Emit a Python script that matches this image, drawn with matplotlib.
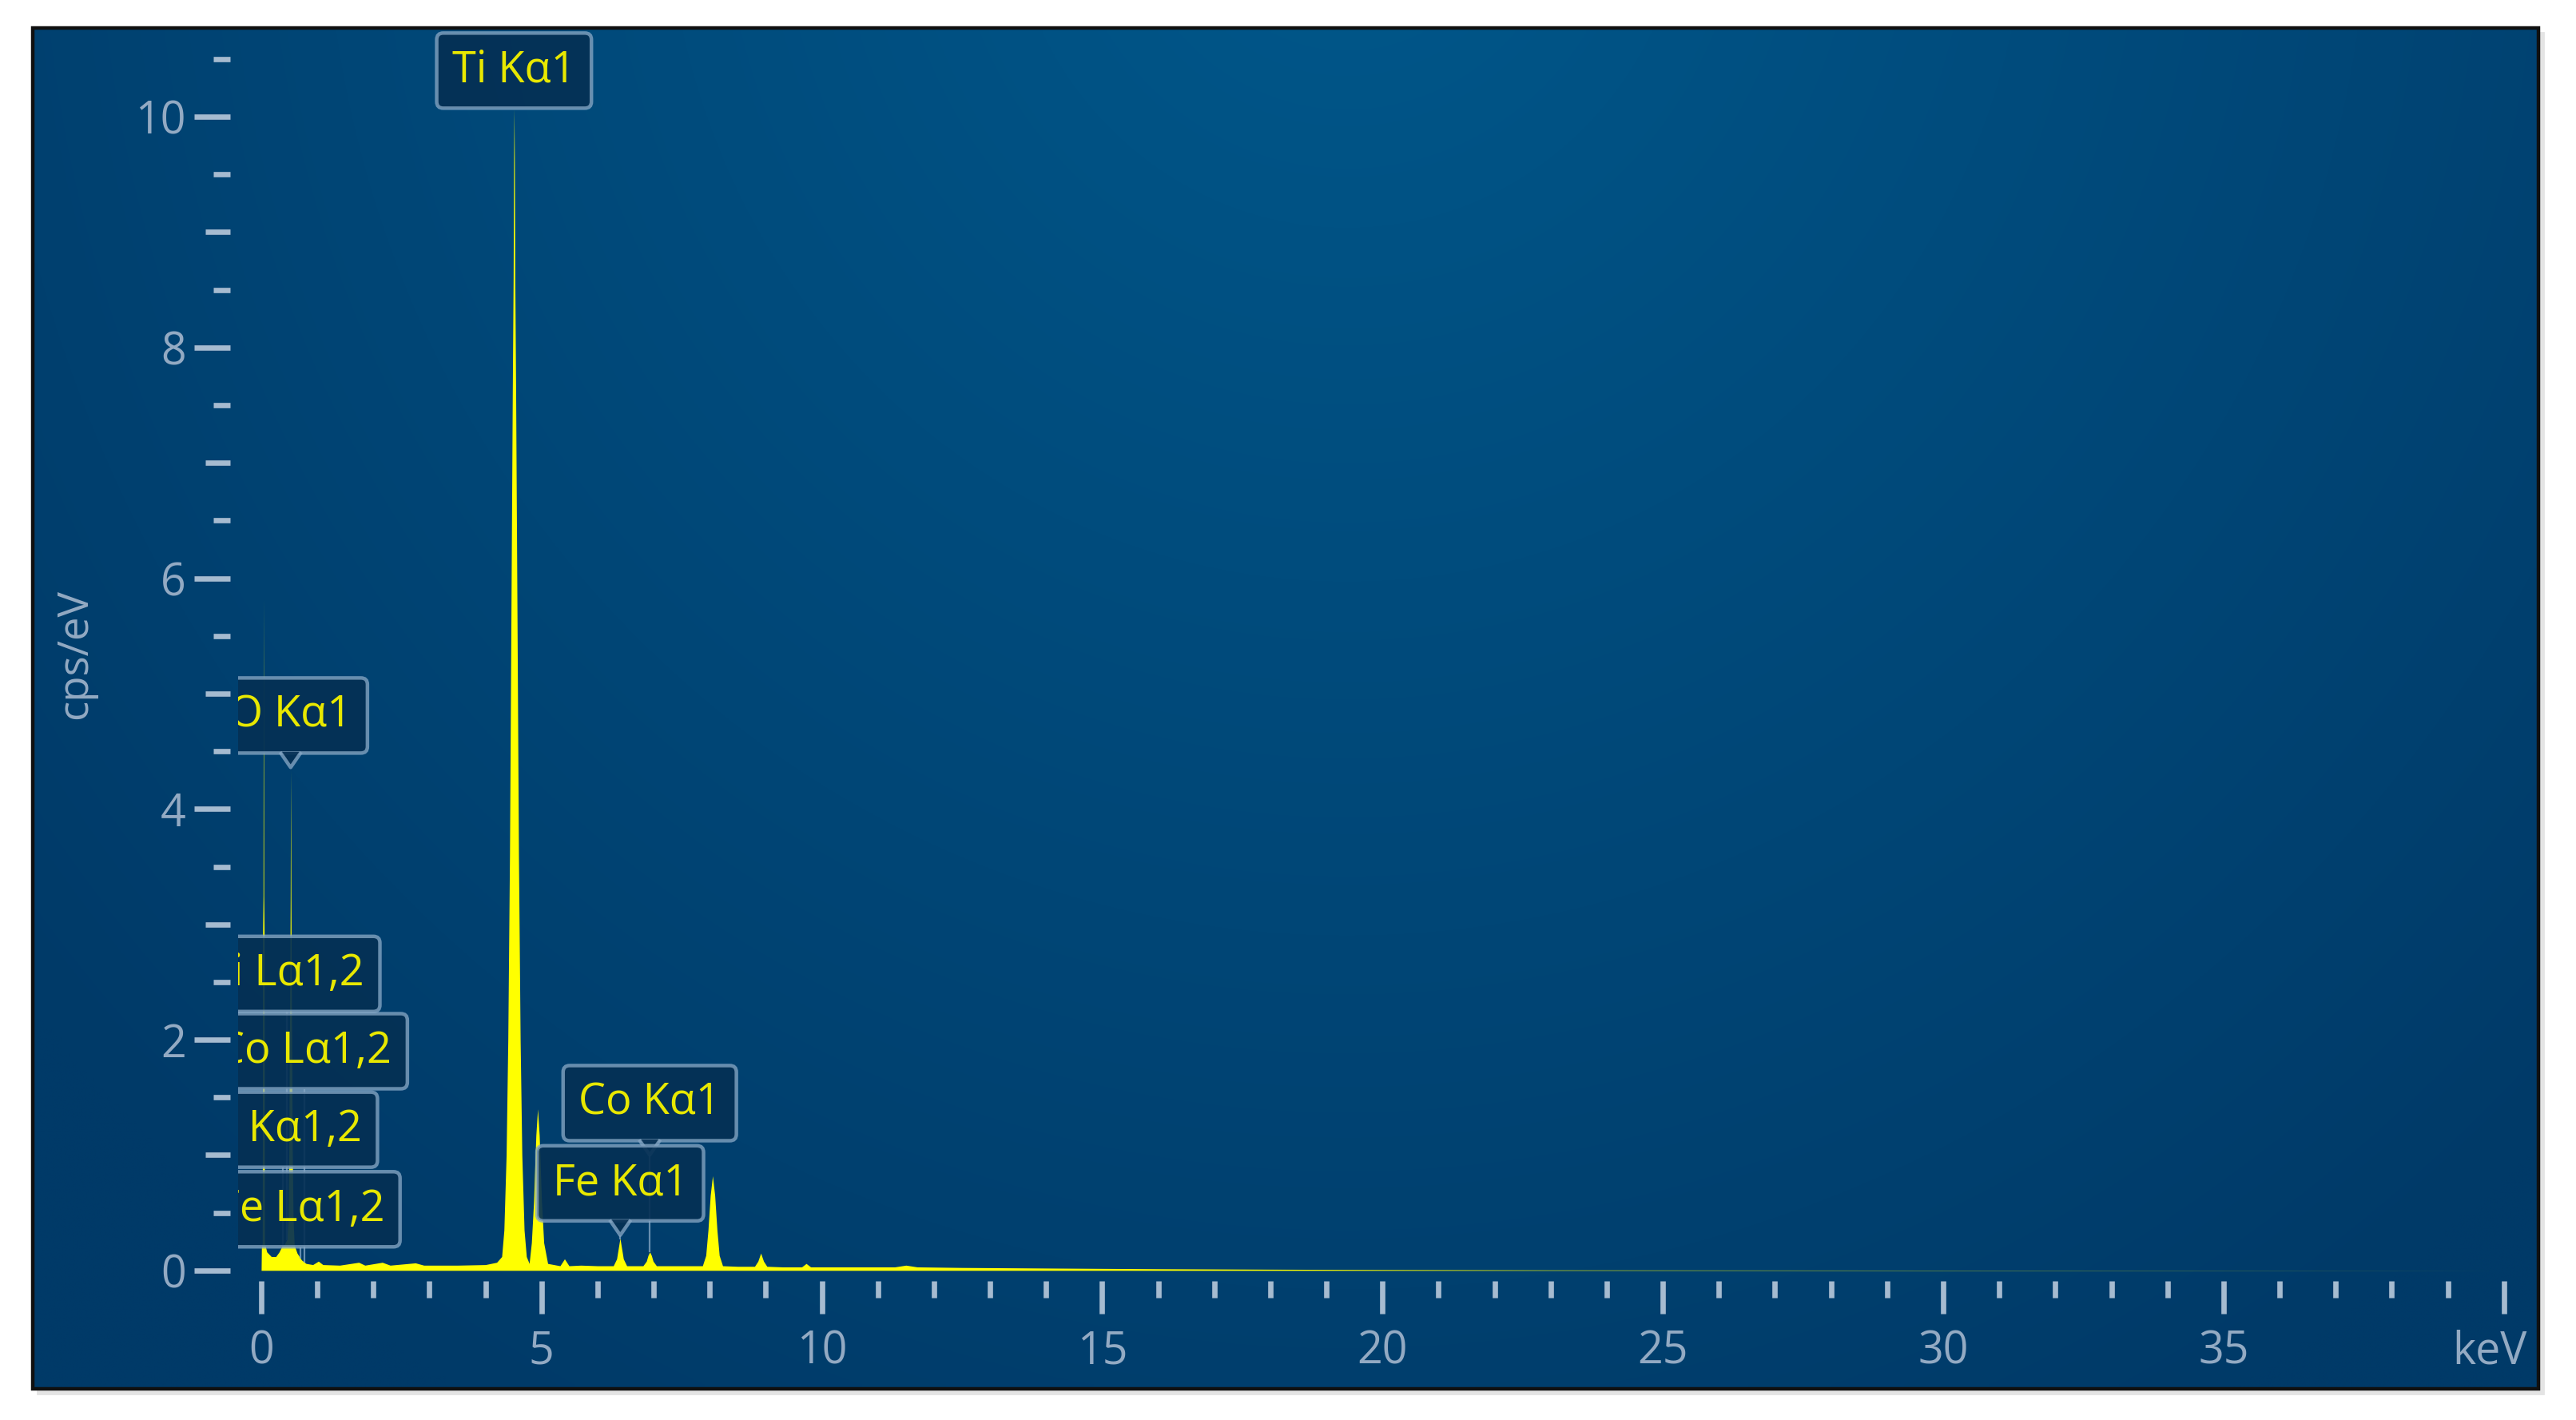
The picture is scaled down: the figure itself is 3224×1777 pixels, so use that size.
import numpy as np
import matplotlib
matplotlib.use("Agg")
import matplotlib.pyplot as plt
from matplotlib import font_manager
from matplotlib.patches import Rectangle, Polygon
from matplotlib.transforms import ScaledTranslation

# EDS spectrum: (energy keV, intensity cps/eV)
spectrum_points = [
    (0.000, 0.00), (0.005, 0.20), (0.020, 0.24), (0.026, 2.90), (0.034, 3.25),
    (0.040, 5.83), (0.046, 3.25), (0.054, 2.90), (0.060, 0.24),
    (0.10, 0.16), (0.18, 0.12), (0.26, 0.12), (0.32, 0.16), (0.37, 0.21),
    (0.42, 0.23), (0.46, 0.27), (0.48, 0.45), (0.495, 1.05), (0.505, 1.96),
    (0.513, 2.59), (0.519, 3.23), (0.525, 4.34), (0.531, 3.23), (0.537, 2.59),
    (0.545, 1.96), (0.555, 1.05), (0.57, 0.45), (0.59, 0.22), (0.64, 0.15),
    (0.72, 0.09), (0.80, 0.06), (0.92, 0.05),
    (1.02, 0.08), (1.10, 0.05), (1.40, 0.045), (1.74, 0.07), (1.85, 0.045),
    (2.16, 0.07), (2.30, 0.045), (2.75, 0.065), (2.90, 0.045), (3.50, 0.045),
    (4.00, 0.05), (4.20, 0.07),
    # Ti Ka
    (4.29, 0.12), (4.33, 0.35), (4.37, 1.00), (4.40, 2.00), (4.43, 3.60),
    (4.46, 6.00), (4.48, 7.60), (4.495, 8.60), (4.503, 9.60), (4.51, 10.07),
    (4.517, 9.60), (4.525, 8.60), (4.54, 7.60), (4.56, 6.00), (4.59, 3.60),
    (4.62, 2.00), (4.65, 1.00), (4.69, 0.35), (4.73, 0.12), (4.78, 0.06),
    # Ti Kb
    (4.82, 0.24), (4.86, 0.60), (4.90, 1.17), (4.93, 1.40), (4.96, 1.17),
    (5.00, 0.60), (5.04, 0.24), (5.11, 0.06),
    (5.33, 0.04), (5.41, 0.10), (5.49, 0.04), (5.70, 0.045), (6.00, 0.04),
    # Fe Ka
    (6.28, 0.04), (6.34, 0.10), (6.37, 0.19), (6.40, 0.28), (6.43, 0.19),
    (6.46, 0.10), (6.52, 0.04),
    # Co Ka
    (6.81, 0.04), (6.87, 0.08), (6.90, 0.13), (6.93, 0.16), (6.96, 0.13),
    (6.99, 0.08), (7.05, 0.04),
    # Cu Ka / Kb
    (7.50, 0.04), (7.87, 0.04), (7.93, 0.13), (7.97, 0.35), (8.01, 0.65),
    (8.05, 0.82), (8.09, 0.65), (8.13, 0.35), (8.17, 0.13), (8.23, 0.04),
    (8.50, 0.035), (8.80, 0.035), (8.86, 0.08), (8.91, 0.15), (8.96, 0.08),
    (9.02, 0.035),
    (9.30, 0.03), (9.64, 0.03), (9.72, 0.06), (9.80, 0.03),
    (10.5, 0.03), (11.3, 0.03), (11.5, 0.045), (11.7, 0.03), (12.5, 0.025),
    (14.0, 0.02), (16.0, 0.014), (18.0, 0.01), (20.0, 0.007), (23.0, 0.004),
    (26.0, 0.003), (30.0, 0.002), (35.0, 0.001), (40.0, 0.0),
]

# peak labels: text, line energy (keV), box centre height (cps/eV), notch drawn
label_text = ["Ti Kα1", "O Kα1", "Ti Lα1,2", "Co Lα1,2", "N Kα1,2", "Fe Lα1,2",
              "Co Kα1", "Fe Kα1"]
label_energy = [4.510, 0.525, 0.452, 0.776, 0.392, 0.705, 6.930, 6.404]
label_level = [10.40, 4.81, 2.57, 1.90, 1.22, 0.53, 1.45, 0.755]
label_notch = [False, True, False, False, False, False, True, True]

x_major = [0, 5, 10, 15, 20, 25, 30, 35, 40]
x_major_labels = ["0", "5", "10", "15", "20", "25", "30", "35", "keV"]
x_minor = [v for v in range(0, 41) if v % 5]
y_major = [0, 1, 2, 3, 4, 5, 6, 7, 8, 9, 10]
y_major_labels = ["0", "", "2", "", "4", "", "6", "", "8", "", "10"]
y_minor = [0.5, 1.5, 2.5, 3.5, 4.5, 5.5, 6.5, 7.5, 8.5, 9.5, 10.5]

energy, cps = map(list, zip(*spectrum_points))

# fonts
installed = {f.name for f in font_manager.fontManager.ttflist}
base_font = "Open Sans" if "Open Sans" in installed else "DejaVu Sans"
plt.rcParams["font.family"] = [base_font, "DejaVu Sans"]

YELLOW = "#ffff00"
LABEL_YELLOW = "#e8e800"
TICK_COL = "#a6bbd0"
TEXT_COL = "#93aac3"
BOX_FACE = (0.02, 0.19, 0.33, 0.92)
BOX_EDGE = (0.52, 0.65, 0.77, 0.78)

fig = plt.figure(figsize=(16.12, 8.885), dpi=200, facecolor="white")

# background panel, drawn in the coordinates of the 1568x864 preview
bg = fig.add_axes([0, 0, 1, 1])
bg.set_xlim(0, 1568)
bg.set_ylim(864, 0)
bg.axis("off")
bg.add_patch(Rectangle((23, 20), 1525, 828, color="#e4e4e4", zorder=0))
gx, gy = np.meshgrid(np.linspace(20, 1545, 300), np.linspace(17, 845, 160))
r = np.clip(np.hypot((gx - 820) * 1.25, (gy + 80) * 1.2) / 1300, 0, 1)[..., None]
c_in = np.array([0x00, 0x58, 0x8b]) / 255
c_out = np.array([0x00, 0x3a, 0x68]) / 255
bg.imshow(c_in * (1 - r) + c_out * r, extent=(20, 1545, 845, 17),
          aspect="auto", interpolation="bilinear", zorder=1)
bg.add_patch(Rectangle((20, 17), 1525, 828, fill=False, ec="#101010",
                       lw=1.6, zorder=2))

# spectrum axes
ax = fig.add_axes([145 / 1568, 1 - 776 / 864, 1390 / 1568, 759 / 864])
ax.set_facecolor("none")
ax.set_xlim(-0.41, 40.32)
ax.set_ylim(-0.043, 10.77)
for s in ax.spines.values():
    s.set_visible(False)
ax.spines["left"].set_position(("outward", 3.7))
ax.spines["bottom"].set_position(("outward", 2.4))

ax.fill_between(energy, 0, cps, color=YELLOW, lw=0, zorder=2)

ax.set_xticks(x_major)
ax.set_xticklabels(x_major_labels)
ax.set_xticks(x_minor, minor=True)
ax.set_yticks(y_major)
ax.set_yticklabels(y_major_labels)
ax.set_yticks(y_minor, minor=True)

ax.tick_params(axis="x", which="major", length=14.8, width=2.4, color=TICK_COL,
               pad=7.0, labelsize=20, labelcolor=TEXT_COL)
ax.tick_params(axis="x", which="minor", length=7.4, width=2.4, color=TICK_COL)
ax.tick_params(axis="y", which="major", length=16.3, width=2.4, color=TICK_COL,
               pad=3.6, labelsize=20, labelcolor=TEXT_COL)
ax.tick_params(axis="y", which="minor", length=7.7, width=2.4, color=TICK_COL)
for tick, v in zip(ax.yaxis.get_major_ticks(), y_major):
    if v % 2:
        tick.tick1line.set_markersize(11.1)

# "keV" sits a little left of the 40 keV tick
kev = ax.get_xticklabels()[-1]
kev.set_transform(kev.get_transform()
                  + ScaledTranslation(-0.09, 0, fig.dpi_scale_trans))

ax.text((46 - 145) / 1390, (776 - 398) / 759, "cps/eV", transform=ax.transAxes,
        rotation=90, ha="center", va="center", fontsize=19, color=TEXT_COL)

# peak labels with callout boxes
half_box = 0.33
notch_h = 0.12
notch_w = 0.17
for i, (name, e, lvl, notch) in enumerate(zip(label_text, label_energy,
                                              label_level, label_notch)):
    z = 5 + i
    bottom = lvl - half_box
    tip = bottom - notch_h if notch else bottom
    peak = float(np.interp(e, energy, cps))
    if peak < tip - 0.02:
        ax.plot([e, e], [tip, peak], color=BOX_EDGE, lw=0.8, zorder=z - 0.5,
                solid_capstyle="butt")
    ax.text(e, lvl, name, ha="center", va="center", fontsize=19.5,
            color=LABEL_YELLOW, zorder=z, clip_on=True,
            bbox=dict(boxstyle="round,pad=0.36,rounding_size=0.15",
                      fc=BOX_FACE, ec=BOX_EDGE, lw=1.6))
    if notch:
        ax.add_patch(Polygon([(e - notch_w, bottom + 0.015), (e, tip),
                              (e + notch_w, bottom + 0.015)],
                             closed=True, fc=BOX_FACE, ec="none", zorder=z + 0.2,
                             clip_on=True))
        ax.plot([e - notch_w, e, e + notch_w], [bottom, tip, bottom],
                color=BOX_EDGE, lw=1.6, zorder=z + 0.3, clip_on=True)

fig.savefig("out.png", dpi=200, facecolor="white")
